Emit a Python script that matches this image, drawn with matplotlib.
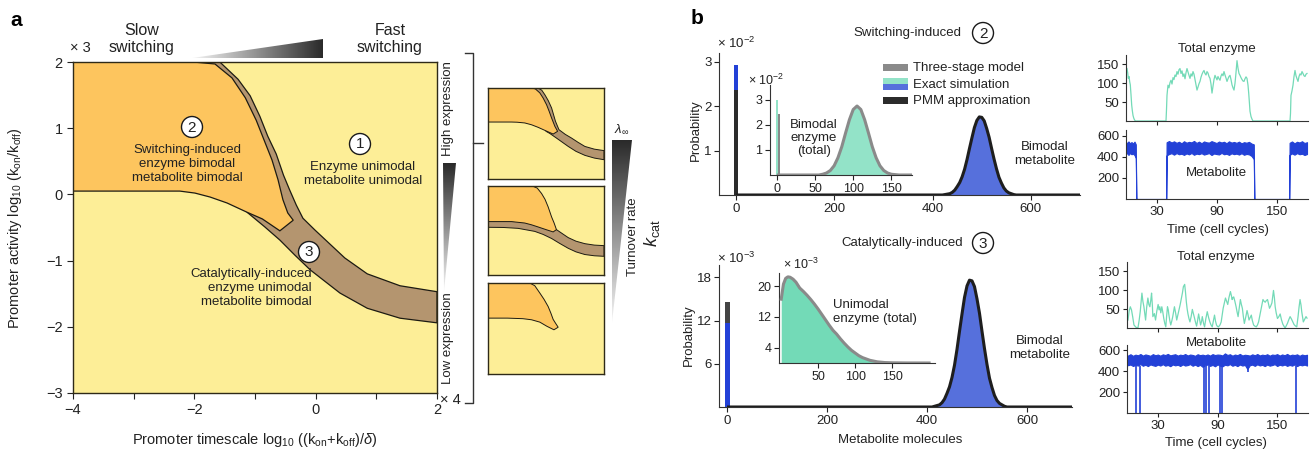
import numpy as np
import matplotlib
matplotlib.use("Agg")
import matplotlib.pyplot as plt
from matplotlib.patches import Polygon, Circle, Rectangle
from matplotlib.colors import LinearSegmentedColormap

plt.rcParams['font.family'] = ['Liberation Sans', 'DejaVu Sans']
plt.rcParams['mathtext.fontset'] = 'custom'
plt.rcParams['mathtext.rm'] = 'Liberation Sans'
plt.rcParams['mathtext.it'] = 'Liberation Sans:italic'
plt.rcParams['mathtext.bf'] = 'Liberation Sans:bold'

# ---------------- data: panel a (phase diagram regions, log10 coords)
orange_a_x = [-4, -2.02, -1.66, -1.38, -1.16, -0.98, -0.85, -0.72, -0.62, -0.54, -0.46, -0.37,
              -0.59, -0.88, -1.13, -1.46, -1.74, -1.99, -2.24, -4]
orange_a_y = [2, 2, 1.97, 1.76, 1.46, 1.12, 0.82, 0.52, 0.22, -0.08, -0.28, -0.39,
              -0.55, -0.37, -0.27, -0.13, -0.04, 0.02, 0.05, 0.05]
brown_a_x = [-2.02, -1.58, -1.28, -1.08, -0.92, -0.79, -0.65, -0.53, -0.43, -0.32, -0.21, -0.01,
             0.20, 0.48, 0.85, 1.39, 2, 2, 1.39, 0.85, 0.40, -0.09, -0.34, -0.59, -0.84, -1.13, -1.3]
brown_a_y = [2, 2, 1.74, 1.49, 1.18, 0.88, 0.61, 0.29, 0.07, -0.16, -0.36, -0.54,
             -0.72, -0.96, -1.20, -1.38, -1.47, -1.94, -1.87, -1.72, -1.49, -1.14, -0.92, -0.69, -0.49, -0.27, 0.5]

# thumbnails (same axes range)
orange_t1_x = [-4, -1.75, -1.55, -1.32, -1.15, -0.97, -0.83, -0.71, -0.54, -0.40, -0.63, -0.95, -1.41, -1.75, -2.10, -2.5, -2.79, -4]
orange_t1_y = [2, 2, 1.95, 1.73, 1.45, 1.08, 0.70, 0.35, -0.11, -0.38, -0.53, -0.38, -0.16, -0.02, 0.08, 0.12, 0.13, 0.13]
brown_t1_x = [-1.75, -1.41, -1.22, -1.06, -0.88, -0.71, -0.51, -0.33, 0.0, 0.32, 0.65, 1.01, 1.5, 2,
              2, 1.5, 1.01, 0.55, 0.15, -0.46, -0.80, -1.0, -1.2]
brown_t1_y = [2, 2, 1.88, 1.63, 1.30, 0.90, 0.17, -0.29, -0.55, -0.75, -0.98, -1.21, -1.36, -1.44,
              -1.94, -1.85, -1.70, -1.48, -1.21, -0.75, -0.50, -0.38, 0.5]

orange_t2_x = [-4, -1.70, -1.45, -1.23, -1.05, -0.89, -0.71, -0.58, -0.46, -0.63, -1.0, -1.41, -1.75, -2.10, -2.79, -4]
orange_t2_y = [2, 2, 1.88, 1.58, 1.25, 0.83, 0.26, -0.08, -0.45, -0.58, -0.45, -0.30, -0.18, -0.08, 0.0, 0.0]
brown_t2_x = [-4, -2.79, -2.10, -1.41, -0.80, -0.46, -0.15, 0.15, 0.55, 1.01, 1.5, 2,
              2, 1.5, 1.01, 0.55, 0.15, -0.30, -0.71, -1.15, -1.58, -2.44, -3.2, -4]
brown_t2_y = [0.02, 0.02, -0.02, -0.2, -0.3, -0.45, -0.68, -0.90, -1.10, -1.24, -1.32, -1.35,
              -1.95, -1.92, -1.85, -1.70, -1.50, -1.22, -0.95, -0.72, -0.55, -0.38, -0.33, -0.32]

orange_t3_x = [-4, -1.84, -1.58, -1.32, -1.10, -0.89, -0.75, -0.63, -0.50, -0.37, -0.59, -0.95, -1.32, -1.75, -2.2, -3.0, -4]
orange_t3_y = [2, 2, 1.85, 1.45, 1.10, 0.71, 0.35, 0.0, -0.22, -0.43, -0.57, -0.38, -0.15, -0.02, 0.04, 0.07, 0.07]

# ---------------- data: panel b, switching-induced (2)
bar2_x = [0]
bar2_exact = [2.92]      # x 1e-2
bar2_pmm = [2.37]
met2_x = [0, 420, 425, 430, 435, 440, 445, 450, 455, 460, 465, 470, 475, 480, 485, 490, 495, 500, 505,
          510, 515, 520, 525, 530, 535, 540, 545, 550, 555, 560, 565, 570, 580, 700]
met2_y = [0, 0.00, 0.01, 0.02, 0.03, 0.06, 0.11, 0.19, 0.28, 0.41, 0.58, 0.80, 1.05, 1.29, 1.52, 1.68, 1.76, 1.75, 1.67,
          1.50, 1.30, 1.05, 0.81, 0.59, 0.40, 0.27, 0.16, 0.09, 0.05, 0.03, 0.01, 0.00, 0, 0]
enz2_bar_exact = [3.0]
enz2_bar_model = [2.45]
enz2_x = [2, 55, 60, 65, 70, 75, 80, 85, 90, 95, 100, 105, 110, 115, 120, 125, 130, 135, 140, 145, 150, 160, 177]
enz2_y = [0, 0, 0.03, 0.08, 0.18, 0.37, 0.69, 1.13, 1.68, 2.21, 2.62, 2.76, 2.62, 2.21, 1.68, 1.13, 0.69, 0.37, 0.18, 0.08, 0.03, 0.0, 0]

# ---------------- data: panel b, catalytically-induced (3)
bar3_exact = [11.6]      # x 1e-3
bar3_pmm = [14.5]
met3_x = [0, 410, 415, 420, 425, 430, 435, 440, 445, 450, 455, 460, 465, 470, 475, 480, 485, 490, 495, 500,
          505, 510, 515, 520, 525, 530, 535, 540, 545, 550, 555, 560, 565, 575, 690]
met3_y = [0, 0.0, 0.1, 0.2, 0.3, 0.6, 1.1, 1.9, 2.8, 4.1, 5.8, 8.0, 10.5, 12.9, 15.2, 16.8, 17.6, 17.5, 16.7, 15.0,
          13.0, 10.5, 8.1, 5.9, 4.0, 2.7, 1.6, 0.9, 0.5, 0.3, 0.1, 0.0, 0.0, 0, 0]
enz3_x = [0, 3, 6, 9, 12, 16, 20, 25, 30, 35, 40, 45, 50, 55, 60, 65, 70, 75, 80, 85, 90, 95, 100, 105, 110,
          120, 130, 140, 150, 170, 200]
enz3_y = [16.6, 20.5, 22.0, 22.4, 22.3, 21.8, 21.0, 19.5, 18.6, 17.6, 16.5, 15.3, 14.0, 12.6, 11.2, 9.8, 8.5, 7.5, 6.3,
          5.2, 4.2, 3.3, 2.6, 1.9, 1.4, 0.7, 0.3, 0.12, 0.05, 0.01, 0.0]

# ---------------- data: time series (cell cycles)
enz_sw = [(0, 139), (0.7, 128), (1.3, 113), (2, 118), (2.7, 104), (3.3, 96), (4, 70), (4.7, 42), (5.3, 28), (6, 15),
          (6.7, 8), (7.5, 3), (8.5, 0), (39, 0), (39.5, 30), (40, 68), (40.5, 82), (41, 95), (42, 88), (43, 102),
          (44, 108), (45, 98), (46, 115), (47, 110), (48, 122), (49, 118), (50, 131), (51, 124), (52, 136), (53, 139),
          (54, 126), (55, 133), (56, 118), (57, 125), (58, 112), (59, 128), (60, 139), (61, 130), (62, 121), (63, 113),
          (64, 125), (65, 119), (66, 131), (67, 124), (68, 110), (69, 96), (70, 82), (71, 90), (72, 99), (73, 105),
          (74, 116), (75, 124), (76, 130), (77, 134), (78, 126), (79, 122), (80, 131), (81, 127), (82, 118), (83, 113),
          (84, 98), (85, 74), (86, 92), (87, 110), (88, 121), (89, 115), (90, 109), (91, 118), (92, 112), (93, 108),
          (94, 119), (95, 125), (96, 120), (97, 131), (98, 122), (99, 114), (100, 105), (101, 112), (102, 118),
          (103, 121), (104, 110), (105, 96), (106, 88), (107, 82), (108, 100), (109, 128), (110, 160), (111, 140),
          (112, 126), (113, 121), (114, 115), (115, 110), (116, 106), (117, 105), (118, 112), (119, 117), (120, 113),
          (121, 95), (121.7, 74), (122.5, 45), (123, 26), (124, 12), (125, 5), (126, 0), (163, 0), (163.5, 20),
          (164, 68), (165, 80), (166, 95), (167, 118), (168, 134), (169, 120), (170, 112), (171, 105), (172, 118),
          (173, 125), (174, 122), (175, 131), (176, 126), (177, 120), (178, 118), (179, 124), (180, 126)]
met_sw = [(0, 435, 535), (1.5, 420, 548), (3, 438, 530), (4.5, 426, 542), (6, 432, 528), (7.5, 418, 546),
          (8.8, 390, 520), (9.3, 0, 0), (39.2, 0, 0), (39.6, 415, 540), (42, 428, 552), (44.5, 436, 538),
          (47, 422, 549), (49.5, 437, 535), (52, 426, 545), (54.5, 431, 530), (57, 420, 550), (59.5, 434, 536),
          (62, 425, 544), (64.5, 438, 539), (67, 421, 553), (69.5, 432, 534), (72, 427, 546), (74.5, 436, 531),
          (77, 423, 548), (79.5, 430, 540), (82, 437, 537), (84.5, 419, 551), (87, 433, 542), (89.5, 428, 533),
          (92, 424, 547), (94.5, 439, 538), (97, 426, 545), (99.5, 431, 531), (102, 420, 549), (104.5, 435, 537),
          (107, 427, 543), (109.5, 432, 535), (112, 423, 546), (114.5, 436, 530), (117, 421, 541), (119.5, 429, 536),
          (122, 425, 544), (124.5, 410, 528), (126.8, 380, 520), (127.3, 0, 0), (162.2, 0, 0), (162.6, 420, 535),
          (165, 434, 548), (167.5, 422, 530), (170, 437, 545), (172.5, 426, 538), (175, 431, 550), (177.5, 419, 533),
          (180, 428, 541)]

enz_cat = [(0, 21), (1.2, 45), (2.3, 56), (3.5, 48), (4.7, 30), (6, 8), (8, 2), (10, 0), (11.2, 20), (12.3, 43),
           (13.2, 70), (14, 92), (15, 70), (16, 56), (17, 35), (17.7, 21), (18.8, 55), (20, 79), (21, 62), (22, 56),
           (23, 75), (23.7, 92), (24.5, 60), (25, 30), (26.5, 38), (27.7, 21), (29, 45), (30.3, 62), (31.2, 48),
           (32, 56), (33, 40), (34, 56), (35, 42), (36, 25), (37, 12), (38, 3), (38.8, 30), (39.7, 56), (40.5, 48),
           (41, 37), (42, 20), (43, 8), (44, 18), (45, 30), (46, 45), (46.7, 56), (48, 38), (49, 21), (50.2, 35),
           (51.3, 49), (52.5, 62), (53.7, 79), (54.7, 92), (55.7, 109), (57, 115), (57.8, 95), (58.7, 68), (59.5, 50),
           (60.3, 37), (61.3, 25), (62.3, 16), (63.5, 30), (64.7, 49), (65.8, 38), (67, 25), (68, 14), (69, 5),
           (70, 20), (71, 37), (72, 22), (73, 8), (74, 18), (74.7, 30), (76, 12), (77, 3), (78.3, 25), (79.7, 43),
           (81, 28), (82.3, 16), (83.5, 8), (84.7, 3), (86, 20), (87, 34), (88, 18), (89, 8), (90, 4), (91, 3),
           (92.5, 8), (93.7, 16), (94.7, 35), (95.7, 52), (97, 68), (98, 79), (99.2, 70), (100.3, 62), (101.5, 80),
           (103, 96), (104, 85), (104.7, 75), (105.5, 80), (106.3, 82), (107.5, 70), (108.7, 56), (109.7, 42),
           (110.7, 30), (112, 55), (113, 75), (114, 62), (115, 52), (116, 30), (117, 12), (118.5, 30), (119.7, 46),
           (120.7, 35), (121.7, 21), (123, 28), (124, 34), (125, 20), (126.3, 8), (127.5, 5), (129, 3), (130.2, 8),
           (131.3, 16), (132.5, 32), (133.7, 49), (134.7, 62), (135.7, 75), (137, 70), (138, 68), (139, 72),
           (140.3, 75), (141.3, 64), (142.3, 52), (143.5, 58), (144.7, 66), (145.5, 82), (146.3, 99), (147.2, 80),
           (148, 56), (149, 40), (150.3, 25), (151.7, 30), (153, 37), (154.3, 22), (155.7, 10), (157, 4), (158, 0),
           (159, 5), (160.3, 12), (161.7, 22), (163, 30), (164.3, 24), (165.7, 16), (167, 9), (168.5, 5), (169.7, 3),
           (171, 30), (172, 55), (173, 75), (174, 60), (174.7, 43), (175.5, 30), (176.3, 16), (177.5, 22), (179, 30),
           (180, 26)]
met_cat = [(0, 455, 548), (2.5, 462, 560), (5, 448, 545), (7.5, 458, 556), (10, 452, 550), (12.5, 466, 562),
           (15, 450, 547), (17.5, 460, 558), (20, 447, 552), (22.5, 463, 545), (25, 455, 561), (27.5, 449, 550),
           (30, 461, 557), (32.5, 452, 546), (35, 465, 559), (37.5, 451, 552), (40, 458, 563), (42.5, 446, 549),
           (45, 462, 555), (47.5, 454, 560), (50, 460, 547), (52.5, 448, 556), (55, 463, 551), (57.5, 452, 562),
           (60, 457, 548), (62.5, 466, 557), (65, 450, 553), (67.5, 461, 545), (70, 447, 560), (72.5, 459, 551),
           (75, 440, 556), (77.5, 455, 549), (80, 462, 558), (82.5, 449, 547), (85, 458, 561), (87.5, 445, 552),
           (90, 463, 557), (92.5, 451, 555), (95, 445, 548), (97.5, 460, 568), (100, 454, 553), (102.5, 466, 560),
           (105, 450, 546), (107.5, 459, 557), (110, 447, 551), (112.5, 462, 563), (115, 452, 548), (117.5, 458, 555),
           (120, 420, 552), (122.5, 455, 547), (125, 461, 559), (127.5, 449, 550), (130, 464, 562), (132.5, 453, 548),
           (135, 459, 556), (137.5, 447, 551), (140, 462, 560), (142.5, 451, 546), (145, 457, 557), (147.5, 465, 553),
           (150, 448, 561), (152.5, 460, 547), (155, 453, 558), (157.5, 462, 550), (160, 449, 563), (162.5, 458, 548),
           (165, 451, 556), (167.5, 463, 552), (170, 447, 559), (172.5, 460, 545), (175, 454, 557), (177.5, 461, 550),
           (180, 452, 555)]
drop_cat_t = [8.3, 11.7, 76.3, 78.0, 81.3, 93.0, 94.3, 120.3, 168.7]
drop_cat_low = [0, 0, 0, 0, 0, 0, 0, 390, 0]

# ---------------- colours
YEL, ORG, BRN, EDGE = '#fdee97', '#fdc55e', '#b4956f', '#1c1a12'
TEAL_LIGHT, TEAL, BLUE_FILL, BLUE = '#93e3c8', '#73dab7', '#5670dc', '#2341d7'
GRAYL, DARK, TXT = '#8a8a8a', '#2b2b2b', '#222222'

W, H = 1314, 451
fig = plt.figure(figsize=(W / 100, H / 100), dpi=100)


def box(x0, y0, x1, y1):
    return [x0 / W, 1 - y1 / H, (x1 - x0) / W, (y1 - y0) / H]


def phase_axes(b, orange, brown, lw, thumb=False):
    ax = fig.add_axes(box(*b))
    ax.set_facecolor(YEL)
    if brown is not None:
        ax.add_patch(Polygon(list(zip(*brown)), closed=True, fc=BRN, ec=EDGE, lw=lw, zorder=1))
    ax.add_patch(Polygon(list(zip(*orange)), closed=True, fc=ORG, ec=EDGE, lw=lw, zorder=1.5))
    ax.set_xlim(-4, 2)
    ax.set_ylim(-3, 2)
    for s in ax.spines.values():
        s.set_color('#2e2a18')
        s.set_linewidth(1.0)
    if thumb:
        ax.set_xticks([])
        ax.set_yticks([])
    return ax


# ---------------- panel a
axa = phase_axes((73, 62, 437, 393), (orange_a_x, orange_a_y), (brown_a_x, brown_a_y), 0.9)
axa.set_xticks([-4, -2, 0, 2])
axa.set_xticks([-3, -1, 1], minor=True)
axa.set_yticks([-3, -2, -1, 0, 1, 2])
axa.tick_params(which='both', direction='out', length=4, width=0.8, labelsize=10.5, colors=TXT)

phase_axes((488, 88, 604, 179), (orange_t1_x, orange_t1_y), (brown_t1_x, brown_t1_y), 0.7, thumb=True)
phase_axes((488, 186, 604, 275), (orange_t2_x, orange_t2_y), (brown_t2_x, brown_t2_y), 0.7, thumb=True)
phase_axes((488, 283, 604, 374), (orange_t3_x, orange_t3_y), None, 0.7, thumb=True)


# ---------------- panel b distributions
def dist_axes(b, xlim, ylim, xticks, yticks, fs=9.5):
    ax = fig.add_axes(box(*b))
    ax.set_facecolor('none')
    ax.spines['top'].set_visible(False)
    ax.spines['right'].set_visible(False)
    for s in ('left', 'bottom'):
        ax.spines[s].set_color('#333333')
        ax.spines[s].set_linewidth(0.8)
    ax.set_xlim(*xlim)
    ax.set_ylim(*ylim)
    ax.set_xticks(xticks)
    ax.set_yticks(yticks)
    ax.tick_params(direction='out', length=3.5, width=0.8, labelsize=fs, colors=TXT, pad=2)
    return ax


b2 = dist_axes((719, 53, 1080, 195), (-35, 700), (0, 3.2), [0, 200, 400, 600], [1, 2, 3])
b2.bar(bar2_x, bar2_exact, width=8, color=BLUE, zorder=2)
b2.bar(bar2_x, bar2_pmm, width=8, color=DARK, zorder=3)
b2.fill_between(met2_x, met2_y, color=BLUE_FILL, lw=0, zorder=2)
b2.plot(met2_x, met2_y, color='#1e1e1e', lw=2.2, zorder=4, solid_capstyle='butt')

i2 = dist_axes((770, 85, 912, 175), (-9, 177), (0, 3.6), [0, 50, 100, 150], [1, 2, 3], fs=9)
i2.bar([0], enz2_bar_exact, width=3, color=TEAL_LIGHT, zorder=2)
i2.bar([2.5], enz2_bar_model, width=3, color=GRAYL, zorder=3)
i2.fill_between(enz2_x, enz2_y, color=TEAL_LIGHT, lw=0, zorder=2)
i2.plot(enz2_x, enz2_y, color=GRAYL, lw=2.2, zorder=4)

b3 = dist_axes((719, 265, 1072, 407), (-16, 690), (0, 19.7), [0, 200, 400, 600], [6, 12, 18])
b3.bar([0], bar3_pmm, width=10, color='#444444', zorder=2)
b3.bar([0], bar3_exact, width=10, color=BLUE, zorder=3)
b3.fill_between(met3_x, met3_y, color=BLUE_FILL, lw=0, zorder=2)
b3.plot(met3_x, met3_y, color='#1e1e1e', lw=2.2, zorder=4, solid_capstyle='butt')

i3 = dist_axes((779, 273, 935, 363), (-3, 208), (0, 23.4), [50, 100, 150], [4, 12, 20], fs=9)
i3.fill_between(enz3_x, enz3_y, color=TEAL, lw=0, zorder=2)
i3.plot(enz3_x, enz3_y, color=GRAYL, lw=2.2, zorder=4)


# ---------------- time series
def ts_axes(b, ylim, yticks, show_x):
    ax = dist_axes(b, (-1, 181), ylim, [30, 90, 150], yticks, fs=9.5)
    if not show_x:
        ax.set_xticklabels([])
    ax.tick_params(length=3)
    return ax


def draw_enz(ax, pts):
    a = np.array(pts, dtype=float)
    ax.plot(a[:, 0], a[:, 1], color=TEAL, lw=0.9)


def draw_met(ax, pts):
    a = np.array(pts, dtype=float)
    ax.fill_between(a[:, 0], a[:, 1], a[:, 2], color=BLUE, lw=0.8, edgecolor=BLUE)


t1 = ts_axes((1126, 55, 1308, 121), (0, 175), [50, 100, 150], False)
draw_enz(t1, enz_sw)
t2 = ts_axes((1126, 130, 1308, 199), (0, 657), [200, 400, 600], True)
draw_met(t2, met_sw)
t3 = ts_axes((1127, 262, 1308, 328), (0, 174), [50, 100, 150], False)
draw_enz(t3, enz_cat)
t4 = ts_axes((1127, 345, 1308, 413), (0, 648), [200, 400, 600], True)
draw_met(t4, met_cat)
t4.vlines(drop_cat_t, drop_cat_low, 450, color=BLUE, lw=1.2)

# ---------------- overlay for annotations (pixel coordinates)
ov = fig.add_axes([0, 0, 1, 1])
ov.set_xlim(0, W)
ov.set_ylim(H, 0)
ov.set_autoscale_on(False)
ov.axis('off')

gcmap = LinearSegmentedColormap.from_list('g', ['#f6f6f6', '#2a2a2a'])


def wedge(pts, horizontal):
    poly = Polygon(pts, closed=True, fc='none', ec='none')
    ov.add_patch(poly)
    xs = [p[0] for p in pts]
    ys = [p[1] for p in pts]
    if horizontal:
        grad = np.linspace(0, 1, 256)[None, :]
    else:
        grad = np.linspace(1, 0, 256)[:, None]
    im = ov.imshow(grad, cmap=gcmap, extent=(min(xs), max(xs), max(ys), min(ys)),
                   aspect='auto', interpolation='bilinear')
    im.set_clip_path(poly)


wedge([(192, 58), (323, 39), (323, 58)], True)
wedge([(443, 163), (456, 163), (444, 292)], False)
wedge([(612, 140), (632, 140), (612, 323)], False)
ov.set_xlim(0, W)
ov.set_ylim(H, 0)

# bracket
ov.plot([465, 473, 473, 465], [53, 53, 403, 403], color='#333333', lw=1)
ov.plot([473, 483], [143, 143], color='#333333', lw=1)


def circ(x, y, s):
    ov.add_patch(Circle((x, y), 10.5, fc='white', ec='#1a1a1a', lw=1, zorder=5))
    ov.text(x, y + 0.5, s, ha='center', va='center', fontsize=11, color=TXT, zorder=6)


# panel a texts
ov.text(16, 20, 'a', fontsize=15, fontweight='bold', ha='center', va='center')
ov.text(142, 39, 'Slow\nswitching', fontsize=11.5, ha='center', va='center', linespacing=1.15, color=TXT)
ov.text(390, 39, 'Fast\nswitching', fontsize=11.5, ha='center', va='center', linespacing=1.15, color=TXT)
ov.text(80, 48, '× 3', fontsize=10.5, ha='center', va='center', color=TXT)
ov.text(450, 400, '× 4', fontsize=10.5, ha='center', va='center', color=TXT)
ov.text(448, 109, 'High expression', fontsize=9.5, rotation=90, ha='center', va='center', color=TXT)
ov.text(448, 338, 'Low expression', fontsize=9.5, rotation=90, ha='center', va='center', color=TXT)
ov.text(622, 129, r'$\lambda_\infty$', fontsize=9.5, ha='center', va='center', color=TXT)
ov.text(633, 237, 'Turnover rate', fontsize=9.5, rotation=90, ha='center', va='center', color=TXT)
ov.text(652, 233, r'$k_{\rm cat}$', fontsize=13, rotation=90, ha='center', va='center', color=TXT)
ov.text(15, 228, r'Promoter activity log$_{10}$ (k$_{\rm on}$/k$_{\rm off}$)', fontsize=10.5,
        rotation=90, ha='center', va='center', color=TXT)
ov.text(255, 440, r'Promoter timescale log$_{10}$ ((k$_{\rm on}$+k$_{\rm off}$)/$\delta$)', fontsize=10.5,
        ha='center', va='center', color=TXT)
circ(192, 127, '2')
ov.text(187, 164, 'Switching-induced\nenzyme bimodal\nmetabolite bimodal', fontsize=9.5, ha='center',
        va='center', linespacing=1.2, color=TXT)
circ(360, 144, '1')
ov.text(363, 174, 'Enzyme unimodal\nmetabolite unimodal', fontsize=9.5, ha='center', va='center',
        linespacing=1.2, color=TXT)
circ(309, 252, '3')
ov.text(312, 288, 'Catalytically-induced\nenzyme unimodal\nmetabolite bimodal', fontsize=9.5, ha='right',
        va='center', linespacing=1.2, color=TXT)

# panel b texts
ov.text(697, 18, 'b', fontsize=15, fontweight='bold', ha='center', va='center')
ov.text(907, 33, 'Switching-induced', fontsize=9.5, ha='center', va='center', color=TXT)
circ(983, 33, '2')
ov.text(902, 243, 'Catalytically-induced', fontsize=9.5, ha='center', va='center', color=TXT)
circ(983, 243, '3')
ov.text(717, 43, r'× 10$^{-2}$', fontsize=9.5, ha='left', va='center', color=TXT)
ov.text(748, 80, r'× 10$^{-2}$', fontsize=9, ha='left', va='center', color=TXT)
ov.text(717, 258, r'× 10$^{-3}$', fontsize=9.5, ha='left', va='center', color=TXT)
ov.text(783, 264, r'× 10$^{-3}$', fontsize=9, ha='left', va='center', color=TXT)
ov.text(696, 130, 'Probability', fontsize=9.5, rotation=90, ha='center', va='center', color=TXT)
ov.text(689, 335, 'Probability', fontsize=9.5, rotation=90, ha='center', va='center', color=TXT)
ov.text(900, 440, 'Metabolite molecules', fontsize=9.5, ha='center', va='center', color=TXT)
ov.text(814, 138, 'Bimodal\nenzyme\n(total)', fontsize=9.5, ha='center', va='center', linespacing=1.15, color=TXT)
ov.text(1045, 154, 'Bimodal\nmetabolite', fontsize=9.5, ha='center', va='center', linespacing=1.15, color=TXT)
ov.text(833, 312, 'Unimodal\nenzyme (total)', fontsize=9.5, ha='left', va='center', linespacing=1.15, color=TXT)
ov.text(1040, 348, 'Bimodal\nmetabolite', fontsize=9.5, ha='center', va='center', linespacing=1.15, color=TXT)

# legend
ov.add_patch(Rectangle((883, 64), 25, 7, fc=GRAYL, ec='none'))
ov.add_patch(Rectangle((883, 78), 25, 6, fc=TEAL_LIGHT, ec='none'))
ov.add_patch(Rectangle((883, 84), 25, 6, fc=BLUE_FILL, ec='none'))
ov.add_patch(Rectangle((883, 97), 25, 7, fc=DARK, ec='none'))
ov.text(913, 68, 'Three-stage model', fontsize=9.5, ha='left', va='center', color=TXT)
ov.text(913, 85, 'Exact simulation', fontsize=9.5, ha='left', va='center', color=TXT)
ov.text(913, 101, 'PMM approximation', fontsize=9.5, ha='left', va='center', color=TXT)

# time series texts
ov.text(1217, 49, 'Total enzyme', fontsize=9.5, ha='center', va='center', color=TXT)
ov.text(1216, 173, 'Metabolite', fontsize=9.5, ha='center', va='center', color=TXT)
ov.text(1218, 230, 'Time (cell cycles)', fontsize=9.5, ha='center', va='center', color=TXT)
ov.text(1216, 257, 'Total enzyme', fontsize=9.5, ha='center', va='center', color=TXT)
ov.text(1216, 343, 'Metabolite', fontsize=9.5, ha='center', va='center', color=TXT)
ov.text(1216, 443, 'Time (cell cycles)', fontsize=9.5, ha='center', va='center', color=TXT)

fig.savefig('out.png', dpi=100)
